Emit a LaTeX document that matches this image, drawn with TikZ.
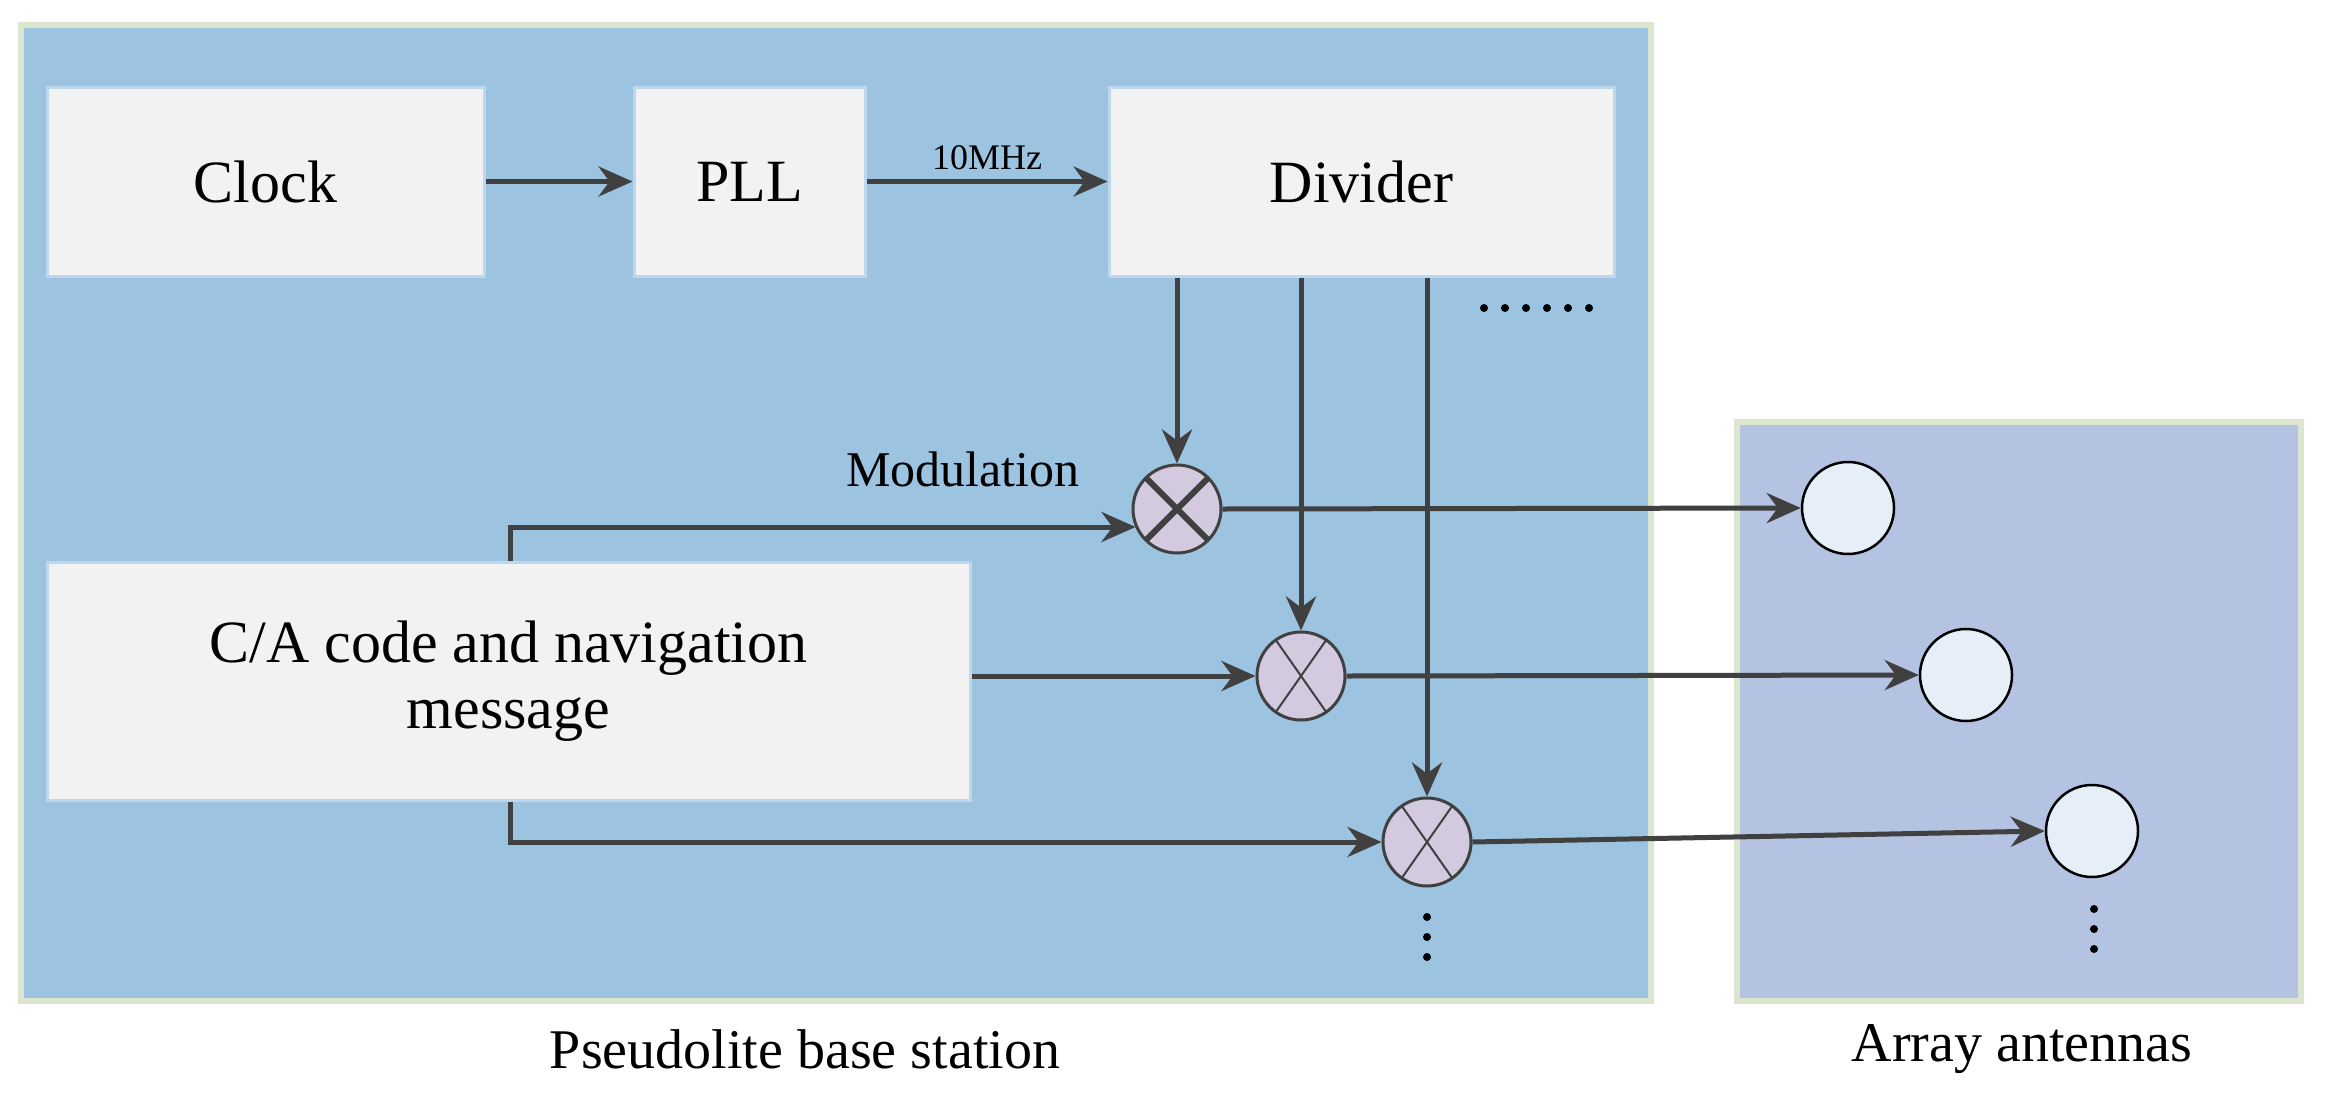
\documentclass[tikz,border=0pt]{standalone}
\usepackage{fontspec}
\setmainfont{Liberation Serif}
\usetikzlibrary{arrows.meta,calc}
\definecolor{bsblue}{HTML}{9CC3E0}
\definecolor{bsedge}{HTML}{DCE5CE}
\definecolor{arrblue}{HTML}{B4C3E2}
\definecolor{boxfill}{HTML}{F2F2F2}
\definecolor{boxedge}{HTML}{BDD7EE}
\definecolor{mixfill}{HTML}{D3CADF}
\definecolor{antfill}{HTML}{E6EEF8}
\definecolor{ln}{HTML}{404040}
\begin{document}
\begin{tikzpicture}[x=1pt,y=-1pt,
  blk/.style={draw=boxedge,line width=3pt,fill=boxfill,inner sep=0,font=\fontsize{60}{70}\selectfont,align=center},
  mix/.style={circle,draw=ln,line width=3pt,fill=mixfill,minimum size=88pt,inner sep=0},
  ant/.style={circle,draw=black,line width=2.5pt,fill=antfill,minimum size=92pt,inner sep=0},
  con/.style={draw=ln,line width=5pt,-{Stealth[length=34pt,width=30pt]}},
  lbl/.style={font=\fontsize{56}{60}\selectfont}]
\useasboundingbox (0,0) rectangle (2325,1092);
\fill[white] (0,0) rectangle (2325,1092);
\draw[draw=bsedge,line width=6pt,fill=bsblue] (21,25) rectangle (1651,1001);
\draw[draw=bsedge,line width=6pt,fill=arrblue] (1737,422) rectangle (2301,1001);
\node[blk,minimum width=437pt,minimum height=189pt] (clk) at (265.5,181.5) {Clock};
\node[blk,minimum width=231pt,minimum height=189pt] (pll) at (749.5,181.5) {PLL};
\node[blk,minimum width=505pt,minimum height=189pt] (div) at (1361.5,181.5) {Divider};
\node[blk,minimum width=923pt,minimum height=238pt] (ca) at (508.5,681) {C/A code and navigation\\[-4pt]message};
\node[mix] (m1) at (1177,509) {};
\node[mix] (m2) at (1301,676) {};
\node[mix] (m3) at (1427,842) {};
\draw[ln,line width=6pt] ($(m1)+(45:44)$) -- ($(m1)+(225:44)$) ($(m1)+(135:44)$) -- ($(m1)+(-45:44)$);
\foreach \m in {m2,m3} \draw[ln,line width=2pt] ($(\m)+(55:44)$) -- ($(\m)+(235:44)$) ($(\m)+(125:44)$) -- ($(\m)+(-55:44)$);
\node[ant] (a1) at (1848,508) {};
\node[ant] (a2) at (1966,675) {};
\node[ant] (a3) at (2092,831) {};
\draw[con] (clk.east) -- (pll.west);
\draw[con] (pll.east) -- node[above=6pt,font=\fontsize{36}{40}\selectfont]{10MHz} (div.west);
\draw[con] (div.south -| m1) -- (m1.north);
\draw[con] (div.south -| m2) -- (m2.north);
\draw[con] (div.south -| m3) -- (m3.north);
\coordinate (t1) at (510,527);
\draw[con] (ca.north -| t1) |- ($(m1.west)+(4,18)$);
\draw[con] (ca.east |- m2) -- (m2.west);
\coordinate (b3) at (510,846);
\draw[con] (ca.south -| b3) |- (m3.west);
\draw[con] (m1.east) -- (a1.west);
\draw[con] (m2.east) -- (a2.west);
\draw[con] (m3.east) -- (a3.west);
\node[lbl,font=\fontsize{50}{56}\selectfont] (mod) at (963,469) {Modulation};
\foreach \y in {917,937,957} { \fill (1427,\y) circle (4pt); \fill (2094,\y-8) circle (4pt); }
\foreach \x in {0,1,2,3,4,5} \fill (1484+\x*21,308) circle (4pt);
\node[lbl] (bs) at (805,1049) {Pseudolite base station};
\node[lbl] (aa) at (2022,1049) {Array antennas};
\end{tikzpicture}
\end{document}
